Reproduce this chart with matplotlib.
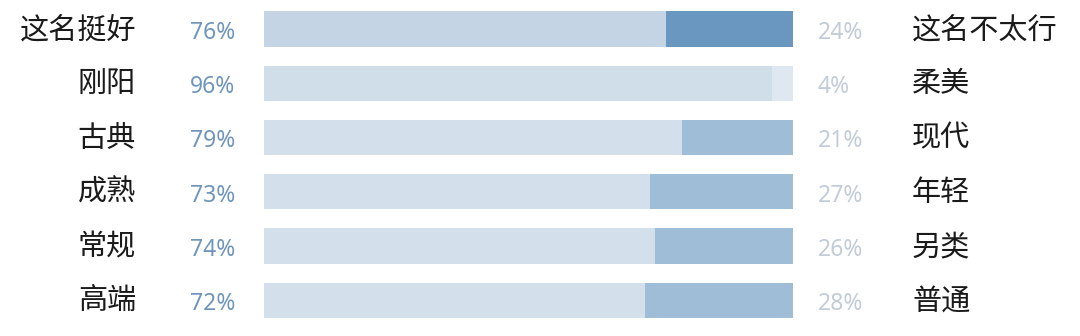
import matplotlib.pyplot as plt
import matplotlib.transforms as mtransforms

plt.rcParams['font.family'] = ['Noto Sans CJK SC', 'DejaVu Sans']

left_labels = ['这名挺好', '刚阳', '古典', '成熟', '常规', '高端']
right_labels = ['这名不太行', '柔美', '现代', '年轻', '另类', '普通']
left_pct = [76, 96, 79, 73, 74, 72]
right_pct = [24, 4, 21, 27, 26, 28]

left_colors = ['#c4d4e5', '#d0deea', '#d3e0ec', '#d3e0ec', '#d3e0ec', '#d3e0ec']
right_colors = ['#6a97c0', '#dfe7f0', '#a0bdd8', '#a0bdd8', '#a0bdd8', '#a0bdd8']

fig = plt.figure(figsize=(10.8, 3.36), dpi=100)
ax = fig.add_axes([264 / 1080, 0, 529 / 1080, 1])
ax.set_xlim(0, 100)
ax.set_ylim(5.66, -0.535)
ax.axis('off')

rows = range(len(left_labels))
ax.barh(rows, left_pct, height=0.65, color=left_colors)
ax.barh(rows, right_pct, left=left_pct, height=0.65, color=right_colors)

# x in figure pixels, y in row units
trans = mtransforms.blended_transform_factory(fig.transFigure, ax.transData)
num_font = ['Noto Sans', 'DejaVu Sans']
for i in rows:
    ax.text(136 / 1080, i + 0.02, left_labels[i], transform=trans, ha='right', va='center',
            fontsize=21, color='#1a1a1a')
    ax.text(190 / 1080, i + 0.07, f'{left_pct[i]}%', transform=trans, ha='left', va='center',
            fontsize=16.5, color='#7095bb', family=num_font)
    ax.text(818 / 1080, i + 0.07, f'{right_pct[i]}%', transform=trans, ha='left', va='center',
            fontsize=16.5, color='#c2ccd8', family=num_font)
    ax.text(912 / 1080, i + 0.02, right_labels[i], transform=trans, ha='left', va='center',
            fontsize=21, color='#1a1a1a')

fig.savefig('out.png', dpi=100, facecolor='white')
